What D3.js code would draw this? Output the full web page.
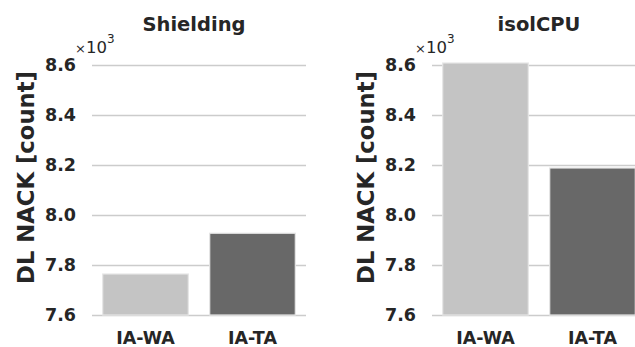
<!DOCTYPE html>
<html>
<head>
<meta charset="utf-8">
<script src="https://cdn.jsdelivr.net/npm/d3@7/dist/d3.min.js"></script>
<style>
  html, body { margin: 0; padding: 0; background: #fff; }
  svg { display: block; }
  text { font-family: "DejaVu Sans", sans-serif; fill: #262626; }
</style>
</head>
<body>
<svg id="chart" width="635" height="347"></svg>
<script>
// DL NACK counts (in thousands) per scheduling variant
const categories = ["IA-WA", "IA-TA"];
const panelTitles = ["Shielding", "isolCPU"];
const shieldingValues = [7.764, 7.927];
const isolcpuValues = [8.608, 8.188];
const yTicks = [7.6, 7.8, 8.0, 8.2, 8.4, 8.6];
const yLabel = "DL NACK [count]";

const panelValues = [shieldingValues, isolcpuValues];
const barColors = ["#c4c4c4", "#686868"];

const svg = d3.select("#chart");
const plotTop = 65, plotBottom = 315, plotW = 214;
const panelX = [92, 432];
const titleShift = [-5, 0];

const y = d3.scaleLinear().domain([7.6, 8.6]).range([plotBottom, plotTop]);

panelValues.forEach((vals, i) => {
  const x0 = panelX[i];
  const x = d3.scaleBand().domain(categories).range([x0, x0 + plotW]).paddingInner(0.2).paddingOuter(0.1);
  const g = svg.append("g");

  // horizontal grid lines with tick labels
  const yAxis = d3.axisLeft(y).tickValues(yTicks).tickSize(-plotW).tickPadding(16)
    .tickFormat(d3.format(".1f"));
  const ya = g.append("g").attr("transform", `translate(${x0},0)`).call(yAxis);
  ya.select(".domain").remove();
  ya.selectAll(".tick line").attr("stroke", "#cccccc").attr("stroke-width", 1.5);
  ya.selectAll(".tick text").style("font-size", "17.5px").style("font-weight", "bold")
    .attr("fill", "#262626").style("font-family", "DejaVu Sans");

  // bars
  g.selectAll("rect.bar").data(vals).enter().append("rect")
    .attr("class", "bar")
    .attr("x", (d, j) => x(categories[j]))
    .attr("width", x.bandwidth())
    .attr("y", d => y(d))
    .attr("height", d => y(7.6) - y(d))
    .attr("fill", (d, j) => barColors[j])
    .attr("stroke", "#e6e6e6").attr("stroke-width", 1.2);

  // category labels
  const xAxis = d3.axisBottom(x).tickSize(0).tickPadding(17);
  const xa = g.append("g").attr("transform", `translate(0,${plotBottom})`).call(xAxis);
  xa.select(".domain").remove();
  xa.selectAll(".tick text").style("font-size", "17.5px").style("font-weight", "bold")
    .attr("fill", "#262626").style("font-family", "DejaVu Sans");

  // panel title
  g.append("text").attr("x", x0 + plotW / 2 + titleShift[i]).attr("y", 30.5)
    .attr("text-anchor", "middle").style("font-size", "19.5px").style("font-weight", "bold")
    .text(panelTitles[i]);

  // axis multiplier
  const m = g.append("text").attr("x", x0 - 17).attr("y", 52.5).style("font-size", "16.5px");
  m.append("tspan").style("font-size", "13px").text("\u00d7");
  m.append("tspan").text("10");
  m.append("tspan").attr("dy", -10).style("font-size", "12px").text("3");

  // y axis label
  g.append("text")
    .attr("transform", `translate(${x0 - 58},177.5) rotate(-90)`)
    .attr("text-anchor", "middle").style("font-size", "22.7px").style("font-weight", "bold")
    .text(yLabel);
});
</script>
</body>
</html>
